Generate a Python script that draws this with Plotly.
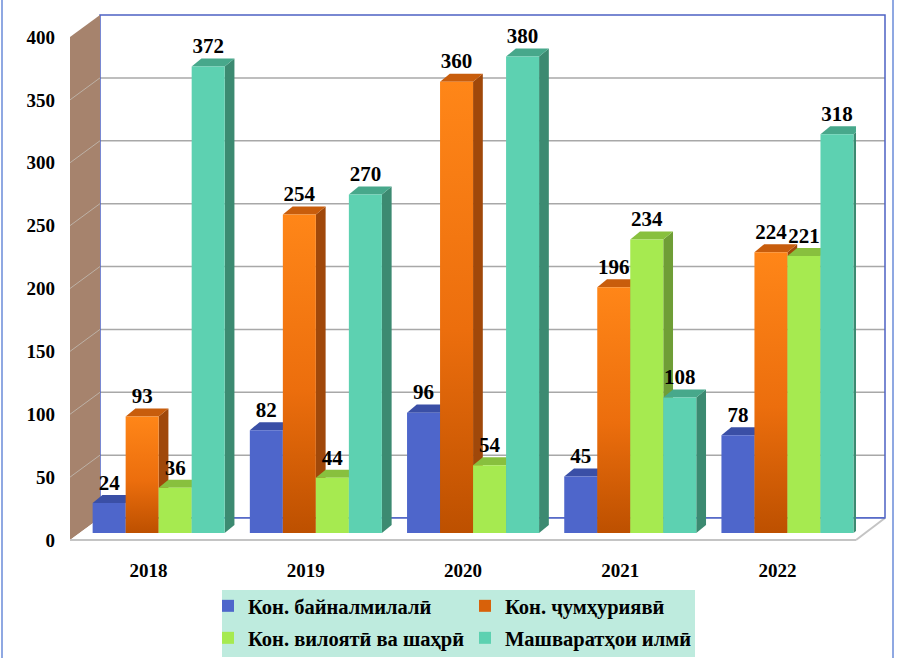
import plotly.graph_objects as go

# ---------------- data ----------------
years = ["2018", "2019", "2020", "2021", "2022"]
series_names = ["Кон. байналмилалӣ", "Кон. ҷумҳуриявӣ",
                "Кон. вилоятӣ ва шаҳрӣ", "Машваратҳои илмӣ"]
intl_conf = [24, 82, 96, 45, 78]
republic_conf = [93, 254, 360, 196, 224]
regional_conf = [36, 44, 54, 234, 221]
sci_meetings = [372, 270, 380, 108, 318]
y_ticks = [0, 50, 100, 150, 200, 250, 300, 350, 400]

series_values = [intl_conf, republic_conf, regional_conf, sci_meetings]

# ---------------- style ----------------
front_cols = ["#4E66CB", None, "#A6EA50", "#5DD1B1"]
orange_scale = [[0, "#BD5000"], [0.45, "#EC6E0D"], [1, "#FF8618"]]
top_cols = ["#3A4FA6", "#C85D0C", "#88C03E", "#47A88B"]
side_cols = ["#34479A", "#A0480A", "#6F9E36", "#3C8A71"]
legend_cols = ["#4E66CB", "#D8610A", "#A6EA50", "#5DD1B1"]

FONT = "Liberation Serif, Times New Roman, Tinos, DejaVu Serif, serif"
W_PX, H_PX = 897, 658
L, R, T, B = 70, 885, 15, 540          # plot area in pixels


def px(x):
    return (x - L) / (R - L)


def py(y):
    return (B - y) / (B - T)


BAR_W = 0.21      # bar width in category units
G0 = -0.356       # left edge of first bar relative to category centre
DX = 0.062        # 3d depth (x, category units)
DY = 6.4          # 3d depth (y, value units)

fig = go.Figure()

for j, vals in enumerate(series_values):
    for i, h in enumerate(vals):
        x0 = i + G0 + BAR_W * j
        x1 = x0 + BAR_W
        # side face
        fig.add_trace(go.Scatter(
            x=[x1, x1 + DX, x1 + DX, x1, x1], y=[0, DY, h + DY, h, 0],
            fill="toself", fillcolor=side_cols[j], mode="lines",
            line=dict(width=0, color=side_cols[j]), showlegend=False,
            hoverinfo="skip"))
        # top face
        fig.add_trace(go.Scatter(
            x=[x0, x1, x1 + DX, x0 + DX, x0], y=[h, h, h + DY, h + DY, h],
            fill="toself", fillcolor=top_cols[j], mode="lines",
            line=dict(width=0, color=top_cols[j]), showlegend=False,
            hoverinfo="skip"))
        # front face
        kw = dict(fillcolor=front_cols[j]) if front_cols[j] else dict(
            fillgradient=dict(type="vertical", colorscale=orange_scale))
        fig.add_trace(go.Scatter(
            x=[x0, x1, x1, x0, x0], y=[0, 0, h, h, 0],
            fill="toself", mode="lines",
            line=dict(width=0, color=legend_cols[j]), showlegend=False,
            name=series_names[j], text=[f"{years[i]}: {h}"] * 5,
            hoverinfo="text", **kw))

# value labels
for j, vals in enumerate(series_values):
    xs = [i + G0 + BAR_W * j + BAR_W / 2 for i in range(len(years))]
    ys = [v + DY for v in vals]
    fig.add_trace(go.Scatter(
        x=xs, y=ys, mode="text", text=[str(v) for v in vals],
        textposition="top center", cliponaxis=False,
        textfont=dict(family=FONT, size=21, color="black", weight="bold"),
        showlegend=False, hoverinfo="skip"))

# legend entries (two rows -> two legends)
for j, name in enumerate(series_names):
    fig.add_trace(go.Bar(
        x=[None], y=[None], name=name, marker=dict(color=legend_cols[j], line=dict(width=0)),
        legend="legend" if j < 2 else "legend2", showlegend=True))

# dummy trace for the value-label axis
fig.add_trace(go.Scatter(x=[None], y=[None], yaxis="y2", showlegend=False,
                         hoverinfo="skip"))

# ---------------- decoration shapes (3-D frame) ----------------
shapes = []
blue_line = "#4D62C4"
# outer frame lines
shapes.append(dict(type="line", xref="paper", yref="paper", layer="below",
                   x0=px(2), x1=px(2), y0=py(0), y1=py(H_PX), line=dict(color="#8FA8E2", width=2)))
shapes.append(dict(type="line", xref="paper", yref="paper", layer="below",
                   x0=px(893), x1=px(893), y0=py(0), y1=py(H_PX), line=dict(color="#8FA8E2", width=2)))
# back wall
back_top, back_bot, back_l, back_r = 15, 518, 100, 885
back_scale = (back_bot - back_top) / 400.0
front_top = 37
front_scale = (B - front_top) / 400.0
for v in y_ticks[1:-1]:
    yy = back_bot - v * back_scale
    shapes.append(dict(type="line", xref="paper", yref="paper", layer="below",
                       x0=px(back_l), x1=px(back_r), y0=py(yy), y1=py(yy),
                       line=dict(color="#A8A8A8", width=1.5)))
shapes.append(dict(type="rect", xref="paper", yref="paper", layer="below",
                   x0=px(back_l), x1=px(back_r), y0=py(back_bot), y1=py(back_top),
                   line=dict(color=blue_line, width=1.5), fillcolor="rgba(0,0,0,0)"))
# left (brown) wall
lw = (f"M {px(L)},{py(front_top)} L {px(back_l)},{py(back_top)} "
      f"L {px(back_l)},{py(back_bot)} L {px(L)},{py(B)} Z")
shapes.append(dict(type="path", xref="paper", yref="paper", layer="below", path=lw,
                   fillcolor="#A6836D", line=dict(width=0)))
for v in y_ticks[1:-1]:
    shapes.append(dict(type="line", xref="paper", yref="paper", layer="below",
                       x0=px(L), x1=px(back_l),
                       y0=py(B - v * front_scale), y1=py(back_bot - v * back_scale),
                       line=dict(color="#BDB1A6", width=1)))
# floor
floor_r = 856
fl = (f"M {px(L)},{py(B)} L {px(floor_r)},{py(B)} L {px(back_r)},{py(back_bot)} "
      f"L {px(back_l)},{py(back_bot)} Z")
shapes.append(dict(type="path", xref="paper", yref="paper", layer="below", path=fl,
                   fillcolor="white", line=dict(width=0)))
shapes.append(dict(type="line", xref="paper", yref="paper", layer="below",
                   x0=px(L), x1=px(floor_r), y0=py(B), y1=py(B),
                   line=dict(color="#C4C4C4", width=2)))
shapes.append(dict(type="line", xref="paper", yref="paper", layer="below",
                   x0=px(floor_r), x1=px(back_r), y0=py(B), y1=py(back_bot),
                   line=dict(color="#C4C4C4", width=2)))
shapes.append(dict(type="line", xref="paper", yref="paper", layer="below",
                   x0=px(back_l), x1=px(back_r), y0=py(back_bot), y1=py(back_bot),
                   line=dict(color=blue_line, width=1.5)))
# legend box
shapes.append(dict(type="rect", xref="paper", yref="paper", layer="below",
                   x0=px(222), x1=px(695), y0=py(657), y1=py(590),
                   fillcolor="#BEEBDE", line=dict(width=0)))

legend_font = dict(family=FONT, size=20.5, color="black", weight="bold")

fig.update_layout(
    width=W_PX, height=H_PX,
    margin=dict(l=L, r=W_PX - R, t=T, b=H_PX - B, autoexpand=False),
    paper_bgcolor="white", plot_bgcolor="rgba(0,0,0,0)",
    shapes=shapes,
    showlegend=True,
    hovermode="closest",
    xaxis=dict(range=[-0.5, 4.5], domain=[0, px(floor_r)], tickvals=list(range(len(years))),
               ticktext=years, showgrid=False, zeroline=False, showline=False, ticks="",
               ticklabelstandoff=24, fixedrange=True, automargin=False,
               tickfont=dict(family=FONT, size=19, color="black", weight="bold")),
    yaxis=dict(range=[0, 400], domain=[py(533), py(31.5)], showgrid=False, zeroline=False,
               showline=False, showticklabels=False, ticks="", fixedrange=True,
               automargin=False),
    yaxis2=dict(range=[0, 400], domain=[0, py(front_top)], anchor="x", tickvals=y_ticks,
                showgrid=False, zeroline=False, showline=False, ticks="",
                ticklabelstandoff=14, fixedrange=True, automargin=False,
                tickfont=dict(family=FONT, size=19, color="black", weight="bold")),
    legend=dict(orientation="h", x=px(208), xanchor="left", y=py(586), yanchor="top",
                bgcolor="rgba(0,0,0,0)", font=legend_font, entrywidth=212,
                itemwidth=30, traceorder="normal"),
    legend2=dict(orientation="h", x=px(208), xanchor="left", y=py(618), yanchor="top",
                 bgcolor="rgba(0,0,0,0)", font=legend_font, entrywidth=212,
                 itemwidth=30, traceorder="normal"),
)

fig.write_html("out.html", config={"displayModeBar": False},
               post_script="document.body.style.margin='0px';"
                           "document.body.style.overflow='hidden';")
